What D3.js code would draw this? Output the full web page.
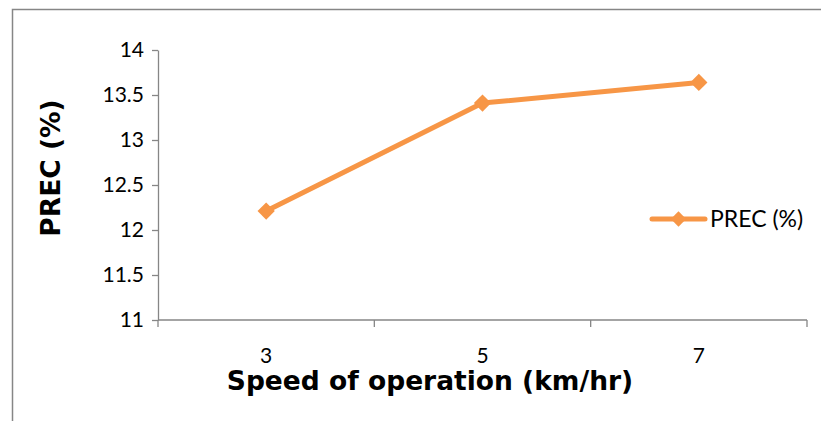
<!DOCTYPE html>
<html>
<head>
<meta charset="utf-8">
<script src="https://cdn.jsdelivr.net/npm/d3@7/dist/d3.min.js"></script>
<style>
  html, body { margin: 0; padding: 0; background: #fff; }
  svg { display: block; }
</style>
</head>
<body>
<svg id="chart" width="821" height="421"></svg>
<script>
// Speed of operation vs PREC
const categories = ["3", "5", "7"];
const precValues = [12.21, 13.41, 13.64];
const yTicks = [11, 11.5, 12, 12.5, 13, 13.5, 14];
const seriesName = "PREC (%)";

const color = "#F79646";
const svg = d3.select("#chart");

// chart frame
svg.append("rect")
  .attr("x", 12.5).attr("y", 9.5)
  .attr("width", 830).attr("height", 440)
  .attr("fill", "#fff")
  .attr("stroke", "#868686").attr("stroke-width", 1.5);

const plot = { left: 158, right: 807, top: 50, bottom: 320 };

const x = d3.scaleBand().domain(categories).range([plot.left, plot.right]).padding(0);
const y = d3.scaleLinear().domain([11, 14]).range([plot.bottom, plot.top]);

const tickFont = "Lato, 'Noto Sans', sans-serif";
const titleFont = "'DejaVu Sans', Verdana, sans-serif";

// y axis
const yAxis = svg.append("g")
  .attr("transform", `translate(${plot.left},0)`)
  .call(d3.axisLeft(y).tickValues(yTicks).tickSize(6).tickSizeOuter(0).tickPadding(8)
    .tickFormat(d => String(d)));
yAxis.selectAll("path, line").attr("stroke", "#868686").attr("stroke-width", 1.3);
yAxis.selectAll("text").attr("font-family", tickFont).attr("font-size", 21).attr("fill", "#000");

// x axis with ticks on band boundaries
const xAxisG = svg.append("g").attr("transform", `translate(0,${plot.bottom})`);
xAxisG.append("line")
  .attr("x1", plot.left).attr("x2", plot.right)
  .attr("stroke", "#868686").attr("stroke-width", 1.3);
const boundaries = categories.map(c => x(c)).concat([x(categories[categories.length - 1]) + x.bandwidth()]);
xAxisG.selectAll("line.tick").data(boundaries).join("line")
  .attr("class", "tick")
  .attr("x1", d => d).attr("x2", d => d)
  .attr("y1", 0).attr("y2", 7)
  .attr("stroke", "#868686").attr("stroke-width", 1.3);
xAxisG.selectAll("text").data(categories).join("text")
  .attr("x", d => x(d) + x.bandwidth() / 2)
  .attr("y", 43)
  .attr("text-anchor", "middle")
  .attr("font-family", tickFont).attr("font-size", 21).attr("fill", "#000")
  .text(d => d);

// axis titles
svg.append("text")
  .attr("x", 430).attr("y", 390)
  .attr("text-anchor", "middle")
  .attr("font-family", titleFont)
  .attr("font-weight", "bold").attr("font-size", 26.5)
  .text("Speed of operation (km/hr)");

svg.append("text")
  .attr("transform", "translate(60,168) rotate(-90)")
  .attr("text-anchor", "middle")
  .attr("font-family", titleFont)
  .attr("font-weight", "bold").attr("font-size", 26.5)
  .text("PREC (%)");

// series line
const pts = categories.map((c, i) => [x(c) + x.bandwidth() / 2, y(precValues[i])]);
svg.append("path")
  .attr("d", d3.line()(pts))
  .attr("fill", "none").attr("stroke", color)
  .attr("stroke-width", 5).attr("stroke-linejoin", "round").attr("stroke-linecap", "round");

const diamond = d3.symbol().type(d3.symbolDiamond2).size(190);
svg.selectAll("path.marker").data(pts).join("path")
  .attr("class", "marker")
  .attr("transform", d => `translate(${d[0]},${d[1]})`)
  .attr("d", diamond)
  .attr("fill", color);

// legend
const lg = svg.append("g").attr("transform", "translate(652,219)");
lg.append("line").attr("x1", 0).attr("x2", 53)
  .attr("stroke", color).attr("stroke-width", 5).attr("stroke-linecap", "round");
lg.append("path").attr("transform", "translate(26.5,0)")
  .attr("d", d3.symbol().type(d3.symbolDiamond2).size(150)).attr("fill", color);
lg.append("text").attr("x", 58).attr("y", 8)
  .attr("font-family", tickFont).attr("font-size", 23).attr("fill", "#000")
  .text(seriesName);
</script>
</body>
</html>
